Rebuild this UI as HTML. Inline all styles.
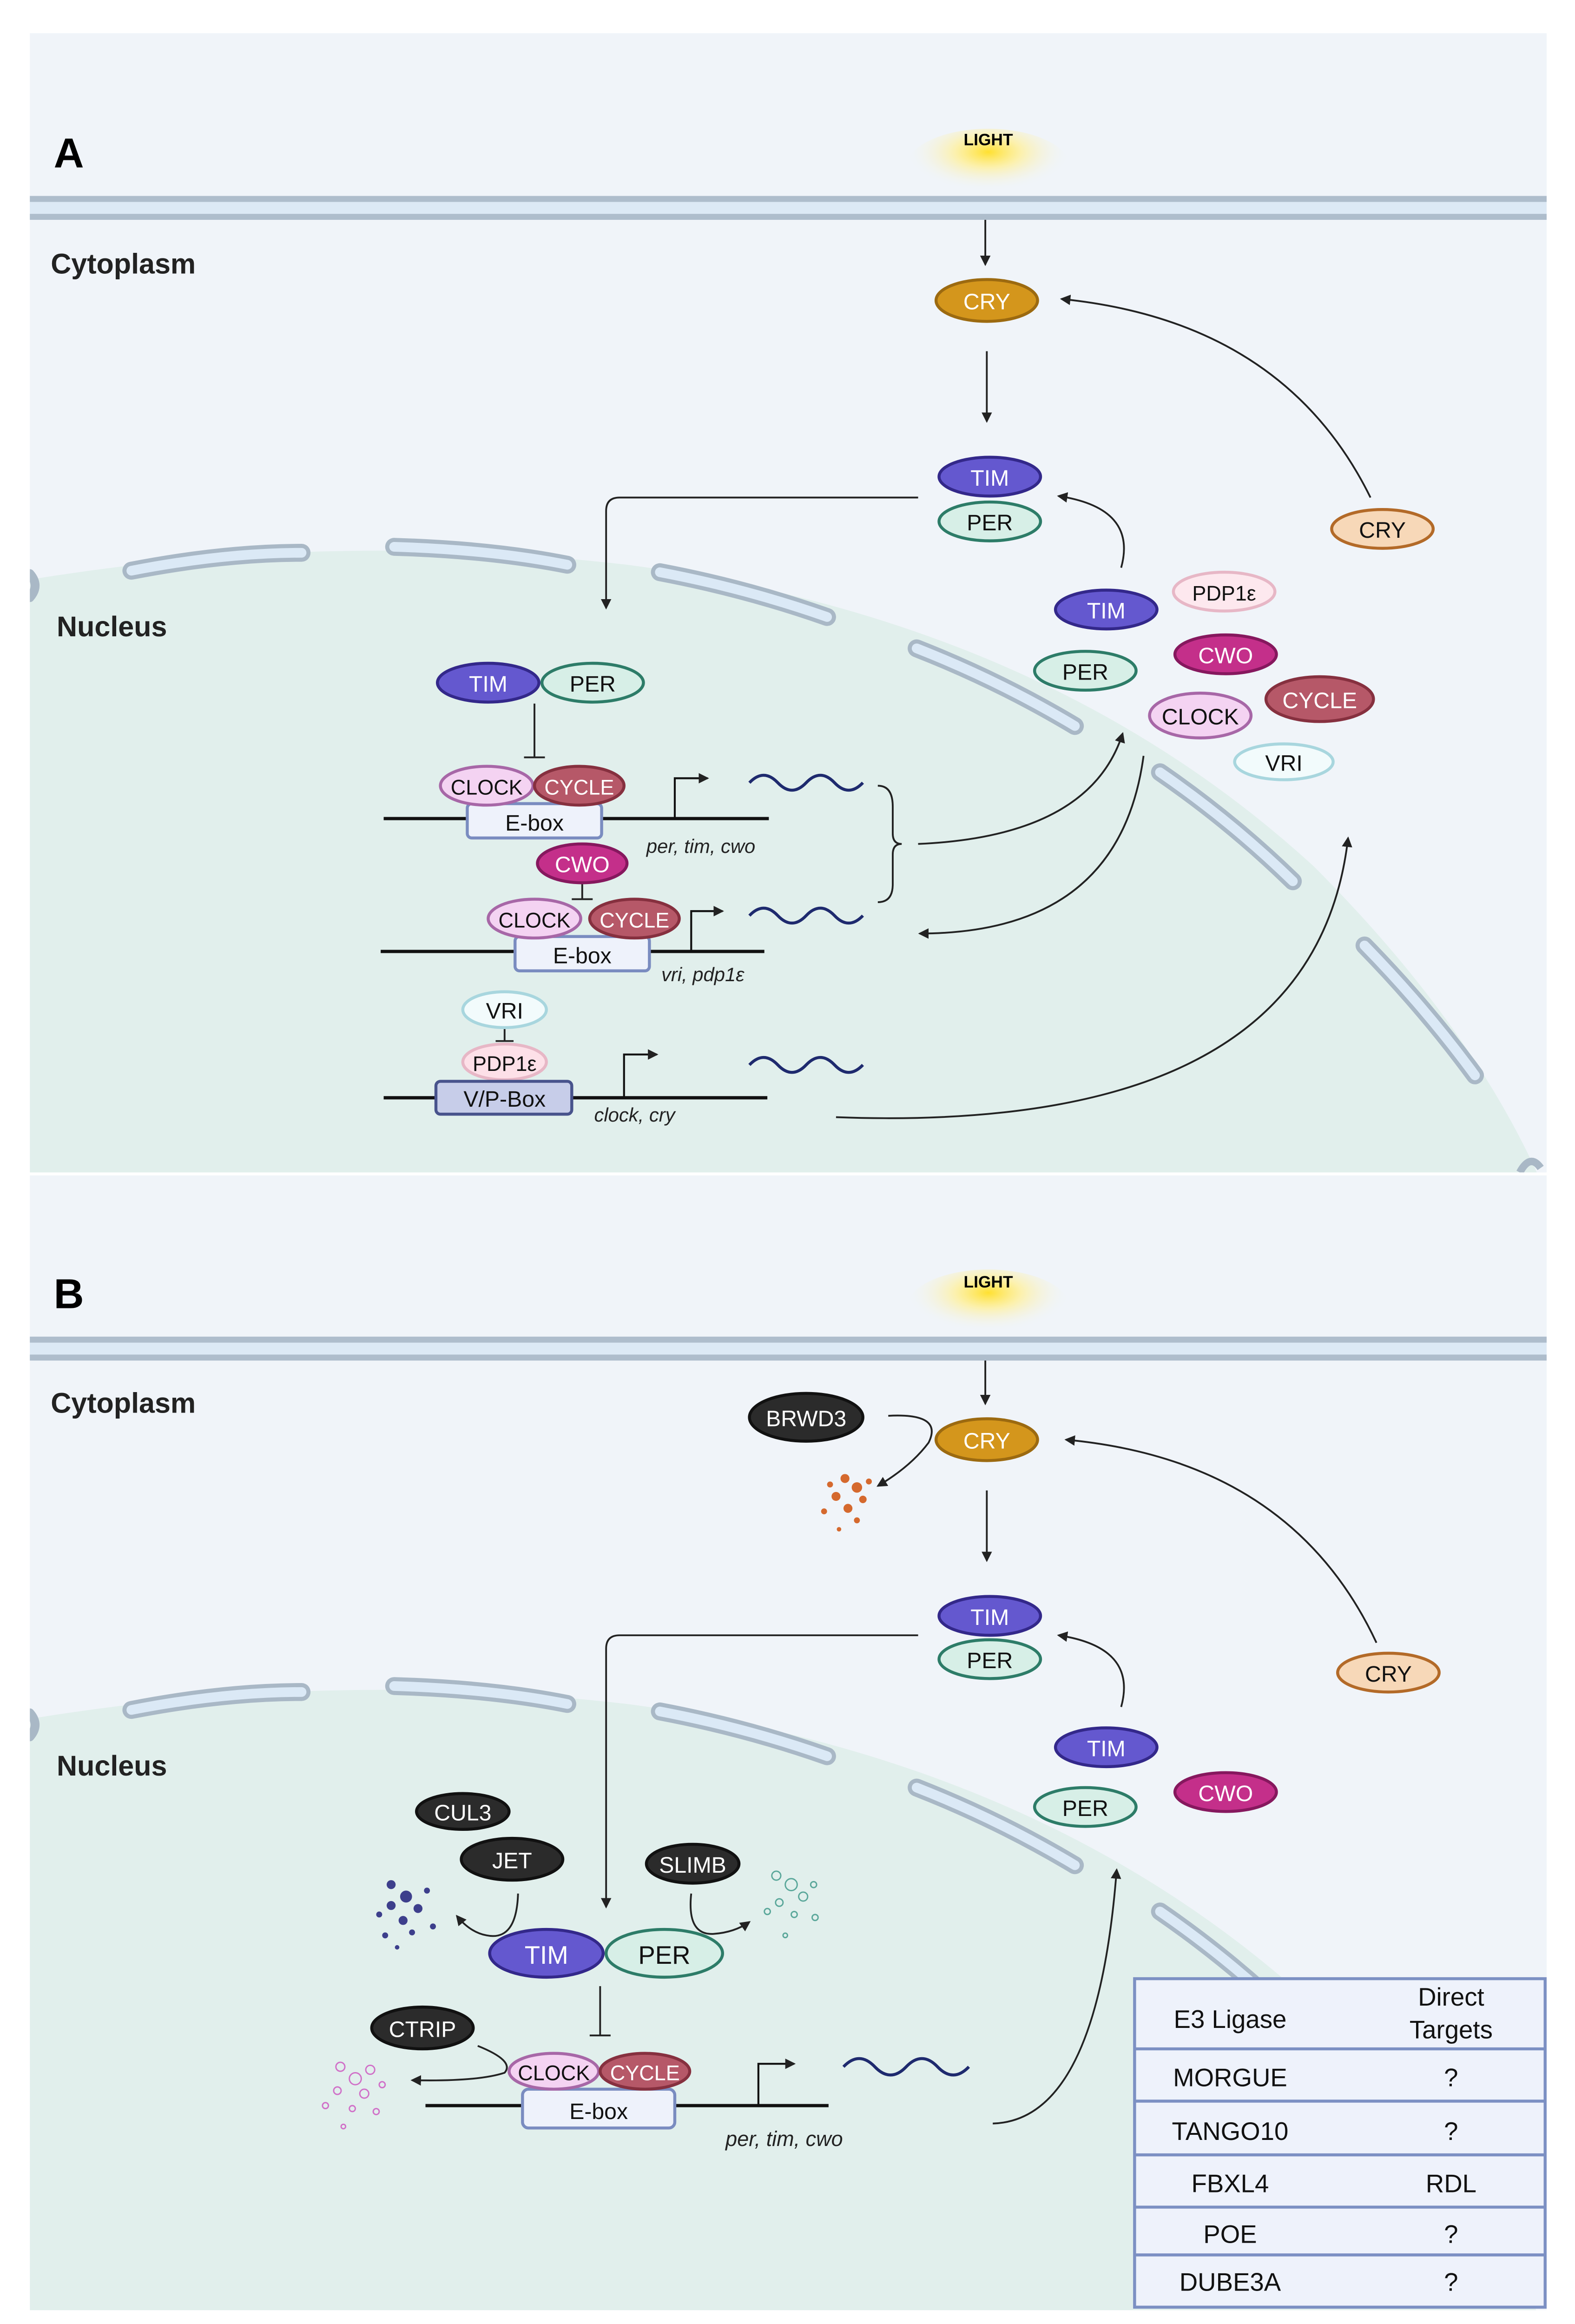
<!DOCTYPE html>
<html><head><meta charset="utf-8"><style>
html,body{margin:0;padding:0;background:#fff;width:3389px;height:5032px;overflow:hidden}
svg{display:block}
text{font-family:"Liberation Sans Narrow","Liberation Sans",sans-serif}
</style></head><body>
<svg width="3389" height="5032" viewBox="0 0 1055 1566" xmlns="http://www.w3.org/2000/svg">
<defs>
<radialGradient id="glow" cx="50%" cy="30%" r="50%">
<stop offset="0" stop-color="#ffe030"/><stop offset="0.4" stop-color="#fff09a" stop-opacity="0.8"/><stop offset="1" stop-color="#f0f4f9" stop-opacity="0"/>
</radialGradient>
<marker id="ah" markerWidth="8" markerHeight="8" refX="6" refY="4" orient="auto" markerUnits="userSpaceOnUse"><path d="M0,0.5 L7,4 L0,7.5 z" fill="#222"/></marker>
<clipPath id="cA"><rect x="20" y="22" width="1016" height="763"/></clipPath>
<clipPath id="cB"><rect x="20" y="787" width="1016" height="760"/></clipPath>
<g id="env">
<path d="M20,384 Q 27,392 20,400" fill="none" stroke="#a9b8c6" stroke-width="6" stroke-linecap="round"/>
<g fill="none" stroke="#a9b8c6" stroke-width="12" stroke-linecap="round">
<path d="M88,382 Q150,370 202,370"/><path d="M264,366 Q330,368 380,378"/><path d="M442,383 Q500,394 554,413"/><path d="M614,434 Q670,456 720,486"/><path d="M777,517 Q825,550 866,590"/><path d="M914,633 Q955,675 988,720"/>
</g>
<g fill="none" stroke="#dbe9f6" stroke-width="6.5" stroke-linecap="round">
<path d="M88,382 Q150,370 202,370"/><path d="M264,366 Q330,368 380,378"/><path d="M442,383 Q500,394 554,413"/><path d="M614,434 Q670,456 720,486"/><path d="M777,517 Q825,550 866,590"/><path d="M914,633 Q955,675 988,720"/>
</g>
</g>
</defs>

<!-- Panel A -->
<rect x="20" y="22" width="1016" height="763" fill="#f0f4f9"/>
<g clip-path="url(#cA)">
<path d="M20,388 Q 220,355 420,378 Q 700,415 880,580 Q 990,690 1036,800 L20,800 Z" fill="#e1efec"/>
<use href="#env"/>
<path d="M1018,785 Q1025,772 1032,782" fill="none" stroke="#a9b8c6" stroke-width="5"/>
</g>
<rect x="20" y="131" width="1016" height="16" fill="#dce9f5"/>
<rect x="20" y="131" width="1016" height="4" fill="#aebdcc"/>
<rect x="20" y="143" width="1016" height="4" fill="#aebdcc"/>
<ellipse cx="662" cy="112" rx="55" ry="26" fill="url(#glow)"/>
<text x="662" y="97" font-size="11" text-anchor="middle" font-weight="bold">LIGHT</text>
<text x="36" y="112" font-size="28" font-weight="bold">A</text>
<text x="34" y="183" font-size="19" font-weight="bold" fill="#222">Cytoplasm</text>
<text x="38" y="426" font-size="19" font-weight="bold" fill="#222">Nucleus</text>

<g fill="none" stroke="#222" stroke-width="1.2">
<line x1="660" y1="147" x2="660" y2="177" marker-end="url(#ah)"/>
<line x1="661" y1="235" x2="661" y2="282" marker-end="url(#ah)"/>
<path d="M615,333 L415,333 Q406,333 406,342 L406,407" marker-end="url(#ah)"/>
<path d="M751,380 Q762,340 709,332" marker-end="url(#ah)"/>
<path d="M918,333 Q860,215 711,200" marker-end="url(#ah)"/>
<path d="M615,565 Q730,560 752,491" marker-end="url(#ah)"/>
<path d="M766,506 Q750,625 616,625" marker-end="url(#ah)"/>
<path d="M560,748 Q880,760 903,561" marker-end="url(#ah)"/>
<line x1="358" y1="471" x2="358" y2="507"/><line x1="351" y1="507" x2="365" y2="507"/>
<line x1="390" y1="591" x2="390" y2="602"/><line x1="383" y1="602" x2="397" y2="602"/>
<line x1="338" y1="689" x2="338" y2="697"/><line x1="332" y1="697" x2="344" y2="697"/>
<path d="M588,526 Q598,526 598,540 L598,558 Q598,565 604,565 Q598,565 598,572 L598,592 Q598,604 588,604"/>
</g>
<g fill="none" stroke="#111" stroke-width="2.2">
<line x1="257" y1="548" x2="515" y2="548"/><line x1="255" y1="637" x2="512" y2="637"/><line x1="257" y1="735" x2="514" y2="735"/>
</g>
<g fill="none" stroke="#111" stroke-width="1.3">
<path d="M452,548 L452,521 L474,521" marker-end="url(#ah)"/>
<path d="M463,637 L463,610 L484,610" marker-end="url(#ah)"/>
<path d="M418,735 L418,706 L440,706" marker-end="url(#ah)"/>
</g>
<g fill="none" stroke="#1e2a6e" stroke-width="2">
<path d="M502,524 q9.5,-10 19,0 t19,0 t19,0 t19,0"/>
<path d="M502,613 q9.5,-10 19,0 t19,0 t19,0 t19,0"/>
<path d="M502,713 q9.5,-10 19,0 t19,0 t19,0 t19,0"/>
</g>
<g font-size="13" font-style="italic" fill="#222" font-family="Liberation Sans">
<text x="433" y="571">per, tim, cwo</text><text x="443" y="657">vri, pdp1ε</text><text x="398" y="751">clock, cry</text>
</g>

<g font-size="15" text-anchor="middle" stroke-width="2">
<ellipse cx="661" cy="201" rx="34" ry="14" fill="#d4961c" stroke="#9c6a10"/><text x="661" y="207" fill="#fff">CRY</text>
<ellipse cx="663" cy="319" rx="34" ry="13" fill="#6458cf" stroke="#33288a"/><text x="663" y="325" fill="#fff">TIM</text>
<ellipse cx="663" cy="349" rx="34" ry="13" fill="#d7efe7" stroke="#2d7c68"/><text x="663" y="355" fill="#111">PER</text>
<ellipse cx="926" cy="354" rx="34" ry="13" fill="#f7d8b8" stroke="#b36a28"/><text x="926" y="360" fill="#111">CRY</text>
<ellipse cx="741" cy="408" rx="34" ry="13" fill="#6458cf" stroke="#33288a"/><text x="741" y="414" fill="#fff">TIM</text>
<ellipse cx="820" cy="396" rx="34" ry="13" fill="#fde8ee" stroke="#e7b7c6"/><text x="820" y="402" fill="#111" font-size="14">PDP1ε</text>
<ellipse cx="727" cy="449" rx="34" ry="13" fill="#d7efe7" stroke="#2d7c68"/><text x="727" y="455" fill="#111">PER</text>
<ellipse cx="821" cy="438" rx="34" ry="13" fill="#c42f8a" stroke="#86185e"/><text x="821" y="444" fill="#fff">CWO</text>
<ellipse cx="884" cy="468" rx="36" ry="15" fill="#b65868" stroke="#86303f"/><text x="884" y="474" fill="#fff">CYCLE</text>
<ellipse cx="804" cy="479" rx="34" ry="15" fill="#f4d3f2" stroke="#a767a7"/><text x="804" y="485" fill="#111">CLOCK</text>
<ellipse cx="860" cy="510" rx="33" ry="12" fill="#f2fbfc" stroke="#a8d6de"/><text x="860" y="516" fill="#111">VRI</text>

<ellipse cx="327" cy="457" rx="34" ry="13" fill="#6458cf" stroke="#33288a"/><text x="327" y="463" fill="#fff">TIM</text>
<ellipse cx="397" cy="457" rx="34" ry="13" fill="#d7efe7" stroke="#2d7c68"/><text x="397" y="463" fill="#111">PER</text>
<rect x="313" y="538" width="90" height="23" rx="3" fill="#eef2fb" stroke="#7a8cc0"/><text x="358" y="556" fill="#111">E-box</text>
<ellipse cx="326" cy="526" rx="31" ry="13" fill="#f4d3f2" stroke="#a767a7"/><text x="326" y="532" fill="#111" font-size="14">CLOCK</text>
<ellipse cx="388" cy="526" rx="30" ry="13" fill="#b65868" stroke="#86303f"/><text x="388" y="532" fill="#fff" font-size="14">CYCLE</text>
<ellipse cx="390" cy="578" rx="30" ry="13" fill="#c42f8a" stroke="#86185e"/><text x="390" y="584" fill="#fff">CWO</text>
<rect x="345" y="627" width="90" height="23" rx="3" fill="#eef2fb" stroke="#7a8cc0"/><text x="390" y="645" fill="#111">E-box</text>
<ellipse cx="358" cy="615" rx="31" ry="13" fill="#f4d3f2" stroke="#a767a7"/><text x="358" y="621" fill="#111" font-size="14">CLOCK</text>
<ellipse cx="425" cy="615" rx="30" ry="13" fill="#b65868" stroke="#86303f"/><text x="425" y="621" fill="#fff" font-size="14">CYCLE</text>
<ellipse cx="338" cy="676" rx="28" ry="12" fill="#f2fbfc" stroke="#a8d6de"/><text x="338" y="682" fill="#111">VRI</text>
<ellipse cx="338" cy="711" rx="28" ry="12" fill="#fde0e8" stroke="#e7b7c6"/><text x="338" y="717" fill="#111" font-size="14">PDP1ε</text>
<rect x="292" y="724" width="91" height="22" rx="3" fill="#c7cde9" stroke="#48538c"/><text x="338" y="741" fill="#111">V/P-Box</text>
</g>

<!-- Panel B -->
<rect x="20" y="787" width="1016" height="760" fill="#f0f4f9"/>
<g clip-path="url(#cB)">
<path d="M20,1151 Q 220,1118 420,1141 Q 700,1178 880,1343 Q 990,1453 1036,1563 L20,1563 Z" fill="#e1efec"/>
<use href="#env" transform="translate(0,763)"/>
</g>
<rect x="20" y="895" width="1016" height="16" fill="#dce9f5"/>
<rect x="20" y="895" width="1016" height="4" fill="#aebdcc"/>
<rect x="20" y="907" width="1016" height="4" fill="#aebdcc"/>
<ellipse cx="662" cy="876" rx="55" ry="26" fill="url(#glow)"/>
<text x="662" y="862" font-size="11" text-anchor="middle" font-weight="bold">LIGHT</text>
<text x="36" y="876" font-size="28" font-weight="bold">B</text>
<text x="34" y="946" font-size="19" font-weight="bold" fill="#222">Cytoplasm</text>
<text x="38" y="1189" font-size="19" font-weight="bold" fill="#222">Nucleus</text>

<g fill="none" stroke="#222" stroke-width="1.2">
<line x1="660" y1="911" x2="660" y2="940" marker-end="url(#ah)"/>
<line x1="661" y1="998" x2="661" y2="1045" marker-end="url(#ah)"/>
<path d="M615,1095 L415,1095 Q406,1095 406,1104 L406,1277" marker-end="url(#ah)"/>
<path d="M751,1143 Q762,1103 709,1095" marker-end="url(#ah)"/>
<path d="M922,1100 Q865,978 714,964" marker-end="url(#ah)"/>
<path d="M595,948 Q632,946 622,966 Q610,982 588,995" marker-end="url(#ah)"/>
<path d="M347,1268 Q346,1300 326,1296 Q315,1294 306,1283" marker-end="url(#ah)"/>
<path d="M463,1268 Q460,1296 478,1295 Q492,1294 502,1287" marker-end="url(#ah)"/>
<path d="M320,1370 Q345,1380 338,1388 Q320,1394 276,1393" marker-end="url(#ah)"/>
<path d="M665,1422 Q735,1420 748,1252" marker-end="url(#ah)"/>
<line x1="402" y1="1330" x2="402" y2="1363"/><line x1="395" y1="1363" x2="409" y2="1363"/>
</g>
<line x1="285" y1="1410" x2="555" y2="1410" stroke="#111" stroke-width="2.2"/>
<path d="M508,1410 L508,1382 L532,1382" fill="none" stroke="#111" stroke-width="1.3" marker-end="url(#ah)"/>
<path d="M565,1384 q10.5,-11 21,0 t21,0 t21,0 t21,0" fill="none" stroke="#1e2a6e" stroke-width="2"/>
<text x="486" y="1437" font-size="14" font-style="italic" fill="#222" font-family="Liberation Sans">per, tim, cwo</text>

<g fill="#d5692e">
<circle cx="566" cy="990" r="3"/><circle cx="574" cy="996" r="3.5"/><circle cx="560" cy="1002" r="3"/><circle cx="578" cy="1004" r="2.5"/><circle cx="568" cy="1010" r="3"/><circle cx="556" cy="994" r="2"/><circle cx="582" cy="992" r="2"/><circle cx="552" cy="1012" r="2"/><circle cx="574" cy="1018" r="2"/><circle cx="562" cy="1024" r="1.5"/>
</g>
<g fill="#3d3f8c">
<circle cx="262" cy="1262" r="3"/><circle cx="272" cy="1270" r="4"/><circle cx="262" cy="1276" r="3"/><circle cx="280" cy="1278" r="3"/><circle cx="254" cy="1282" r="2"/><circle cx="270" cy="1286" r="3"/><circle cx="286" cy="1266" r="2"/><circle cx="276" cy="1294" r="2"/><circle cx="290" cy="1290" r="2"/><circle cx="258" cy="1296" r="2"/><circle cx="266" cy="1304" r="1.5"/>
</g>
<g fill="none" stroke="#5aa79a" stroke-width="0.9">
<circle cx="520" cy="1256" r="3"/><circle cx="530" cy="1262" r="4"/><circle cx="538" cy="1270" r="3"/><circle cx="522" cy="1274" r="2.5"/><circle cx="545" cy="1262" r="2"/><circle cx="532" cy="1282" r="2"/><circle cx="514" cy="1280" r="2"/><circle cx="546" cy="1284" r="2"/><circle cx="526" cy="1296" r="1.5"/>
</g>
<g fill="none" stroke="#d070c8" stroke-width="0.9">
<circle cx="228" cy="1384" r="3"/><circle cx="238" cy="1392" r="4"/><circle cx="248" cy="1386" r="3"/><circle cx="226" cy="1400" r="2.5"/><circle cx="244" cy="1402" r="3"/><circle cx="256" cy="1396" r="2"/><circle cx="218" cy="1410" r="2"/><circle cx="236" cy="1412" r="2"/><circle cx="252" cy="1414" r="2"/><circle cx="230" cy="1424" r="1.5"/>
</g>

<g font-size="15" text-anchor="middle" stroke-width="2">
<ellipse cx="540" cy="949" rx="38" ry="16" fill="#2b2b2b" stroke="#111"/><text x="540" y="955" fill="#fff">BRWD3</text>
<ellipse cx="661" cy="964" rx="34" ry="14" fill="#d4961c" stroke="#9c6a10"/><text x="661" y="970" fill="#fff">CRY</text>
<ellipse cx="663" cy="1082" rx="34" ry="13" fill="#6458cf" stroke="#33288a"/><text x="663" y="1088" fill="#fff">TIM</text>
<ellipse cx="663" cy="1111" rx="34" ry="13" fill="#d7efe7" stroke="#2d7c68"/><text x="663" y="1117" fill="#111">PER</text>
<ellipse cx="930" cy="1120" rx="34" ry="13" fill="#f7d8b8" stroke="#b36a28"/><text x="930" y="1126" fill="#111">CRY</text>
<ellipse cx="741" cy="1170" rx="34" ry="13" fill="#6458cf" stroke="#33288a"/><text x="741" y="1176" fill="#fff">TIM</text>
<ellipse cx="727" cy="1210" rx="34" ry="13" fill="#d7efe7" stroke="#2d7c68"/><text x="727" y="1216" fill="#111">PER</text>
<ellipse cx="821" cy="1200" rx="34" ry="13" fill="#c42f8a" stroke="#86185e"/><text x="821" y="1206" fill="#fff">CWO</text>
<ellipse cx="310" cy="1213" rx="31" ry="12" fill="#2b2b2b" stroke="#111"/><text x="310" y="1219" fill="#fff">CUL3</text>
<ellipse cx="343" cy="1245" rx="34" ry="14" fill="#2b2b2b" stroke="#111"/><text x="343" y="1251" fill="#fff">JET</text>
<ellipse cx="464" cy="1248" rx="31" ry="13" fill="#2b2b2b" stroke="#111"/><text x="464" y="1254" fill="#fff">SLIMB</text>
<ellipse cx="366" cy="1308" rx="38" ry="16" fill="#6458cf" stroke="#33288a"/><text x="366" y="1315" fill="#fff" font-size="17">TIM</text>
<ellipse cx="445" cy="1308" rx="39" ry="16" fill="#d7efe7" stroke="#2d7c68"/><text x="445" y="1315" fill="#111" font-size="17">PER</text>
<ellipse cx="283" cy="1358" rx="34" ry="14" fill="#2b2b2b" stroke="#111"/><text x="283" y="1364" fill="#fff">CTRIP</text>
<rect x="350" y="1399" width="102" height="26" rx="4" fill="#eef2fb" stroke="#7a8cc0"/><text x="401" y="1419" fill="#111">E-box</text>
<ellipse cx="371" cy="1387" rx="30" ry="12" fill="#f4d3f2" stroke="#a767a7"/><text x="371" y="1393" fill="#111" font-size="14">CLOCK</text>
<ellipse cx="432" cy="1387" rx="30" ry="12" fill="#b65868" stroke="#86303f"/><text x="432" y="1393" fill="#fff" font-size="14">CYCLE</text>
</g>

<g stroke="#7c90c3" stroke-width="2" fill="#eef2fb">
<rect x="760" y="1325" width="275" height="220"/>
<line x1="760" y1="1372" x2="1035" y2="1372"/><line x1="760" y1="1407" x2="1035" y2="1407"/><line x1="760" y1="1443" x2="1035" y2="1443"/><line x1="760" y1="1478" x2="1035" y2="1478"/><line x1="760" y1="1510" x2="1035" y2="1510"/>
</g>
<g font-size="17" text-anchor="middle" fill="#111">
<text x="824" y="1358">E3 Ligase</text><text x="972" y="1343">Direct</text><text x="972" y="1365">Targets</text>
<text x="824" y="1397">MORGUE</text><text x="972" y="1397">?</text>
<text x="824" y="1433">TANGO10</text><text x="972" y="1433">?</text>
<text x="824" y="1468">FBXL4</text><text x="972" y="1468">RDL</text>
<text x="824" y="1502">POE</text><text x="972" y="1502">?</text>
<text x="824" y="1534">DUBE3A</text><text x="972" y="1534">?</text>
</g>
</svg>
</body></html>
